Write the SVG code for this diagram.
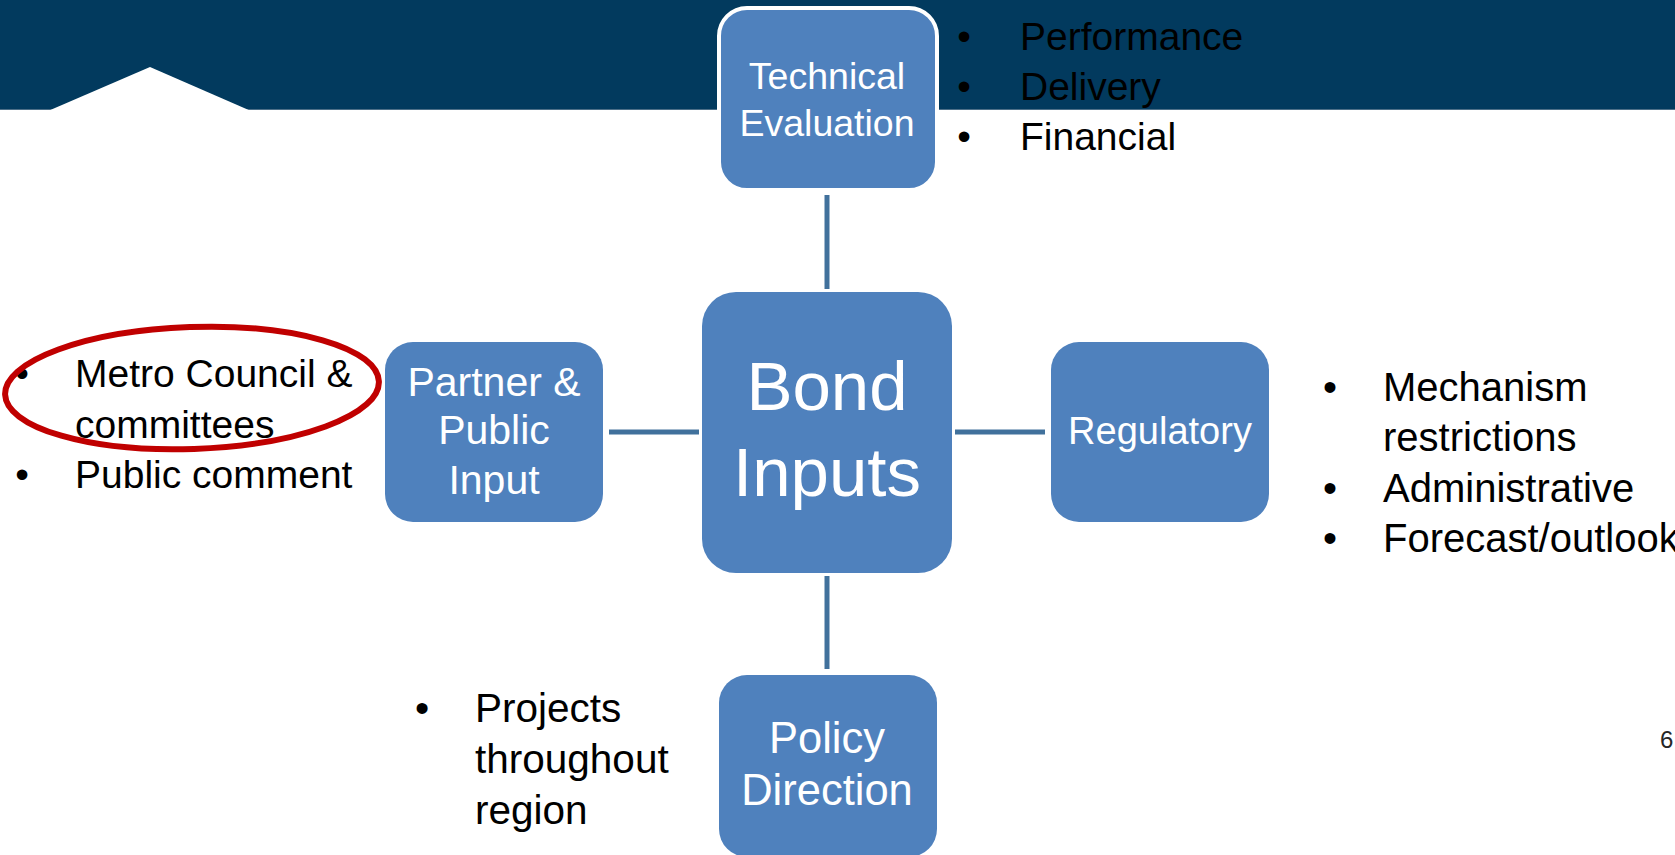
<svg xmlns="http://www.w3.org/2000/svg" width="1675" height="855" viewBox="0 0 1675 855">
<style>
.box{fill:#4F81BD;}
.lbl{font-family:"Liberation Sans",Arial,sans-serif;fill:#FFFFFF;text-anchor:middle;}
.bul{font-family:"Liberation Sans",Arial,sans-serif;fill:#000000;font-size:39px;}
.bul40{font-size:40px;}
.bul41{font-size:40.5px;}
.dot{text-anchor:middle;}
.conn{stroke:#41719C;stroke-width:5;fill:none;}
</style>
<rect x="0" y="0" width="1675" height="855" fill="#FFFFFF"/>
<g id="banner">
<rect x="0" y="0" width="1675" height="110" fill="#023A5E"/>
<line x1="0" y1="109.5" x2="1675" y2="109.5" stroke="#4D6F88" stroke-width="1"/>
<polygon points="48,111 150,67 251,111" fill="#FFFFFF"/>
</g>
<g id="connectors">
<line class="conn" x1="827" y1="195" x2="827" y2="289"/>
<line class="conn" x1="827" y1="576" x2="827" y2="669"/>
<line class="conn" x1="609" y1="432" x2="699" y2="432"/>
<line class="conn" x1="955" y1="432" x2="1045" y2="432"/>
</g>
<g id="technical-evaluation">
<rect class="box" x="719" y="8" width="218" height="182" rx="28" stroke="#FFFFFF" stroke-width="4"/>
<text class="lbl" font-size="37.5" x="827" y="89">Technical</text>
<text class="lbl" font-size="37.5" x="827" y="136">Evaluation</text>
</g>
<g id="bond-inputs">
<rect class="box" x="702" y="292" width="250" height="281" rx="34"/>
<text class="lbl" font-size="69" x="827" y="410">Bond</text>
<text class="lbl" font-size="69" x="827" y="496">Inputs</text>
</g>
<g id="partner-public-input">
<rect class="box" x="385" y="342" width="218" height="180" rx="28"/>
<text class="lbl" font-size="41" x="494" y="396">Partner &amp;</text>
<text class="lbl" font-size="41" x="494" y="444">Public</text>
<text class="lbl" font-size="41" x="494" y="494">Input</text>
</g>
<g id="regulatory">
<rect class="box" x="1051" y="342" width="218" height="180" rx="28"/>
<text class="lbl" font-size="38" x="1160" y="444">Regulatory</text>
</g>
<g id="policy-direction">
<rect class="box" x="719" y="675" width="218" height="182" rx="28"/>
<text class="lbl" font-size="43.5" x="827" y="753">Policy</text>
<text class="lbl" font-size="43.5" x="827" y="805">Direction</text>
</g>
<g id="tech-bullets" class="bul">
<text class="dot" x="964" y="50">•</text><text x="1020" y="50">Performance</text>
<text class="dot" x="964" y="100">•</text><text x="1020" y="100">Delivery</text>
<text class="dot" x="964" y="150">•</text><text x="1020" y="150">Financial</text>
</g>
<g id="partner-bullets" class="bul">
<text class="dot" x="22" y="387">•</text><text x="75" y="387">Metro Council &amp;</text>
<text x="75" y="438">committees</text>
<text class="dot" x="22" y="488">•</text><text x="75" y="488">Public comment</text>
</g>
<g id="regulatory-bullets" class="bul bul40">
<text class="dot" x="1330" y="401">•</text><text x="1383" y="401">Mechanism</text>
<text x="1383" y="451">restrictions</text>
<text class="dot" x="1330" y="502">•</text><text x="1383" y="502">Administrative</text>
<text class="dot" x="1330" y="552">•</text><text x="1383" y="552">Forecast/outlook</text>
</g>
<g id="policy-bullets" class="bul bul41">
<text class="dot" x="422" y="722">•</text><text x="475" y="722">Projects</text>
<text x="475" y="773">throughout</text>
<text x="475" y="824">region</text>
</g>
<g id="highlight">
<ellipse cx="192" cy="388" rx="187" ry="61" fill="none" stroke="#C00000" stroke-width="6" transform="rotate(-2 192 388)"/>
</g>
<text x="1660" y="748" font-family="'Liberation Sans',Arial,sans-serif" font-size="24" fill="#262626">6</text>
</svg>
